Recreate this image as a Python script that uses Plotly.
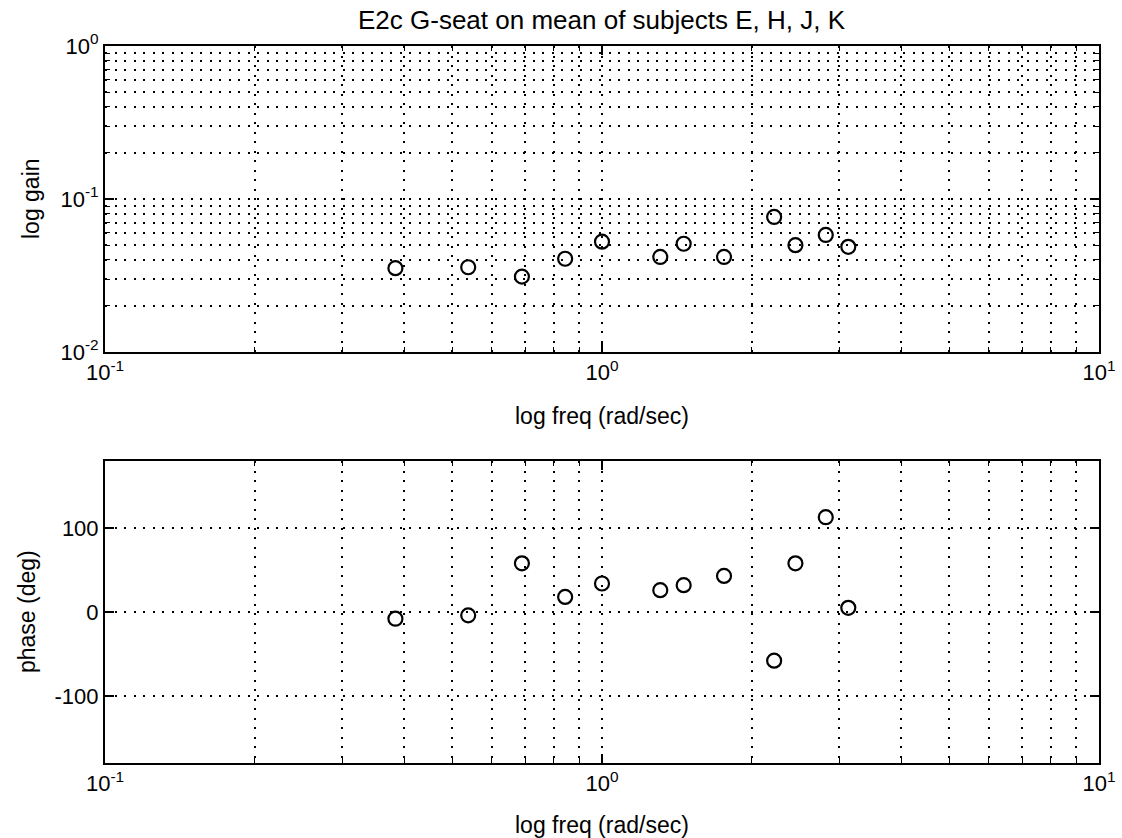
import plotly.graph_objects as go

freq = [0.384, 0.538, 0.690, 0.843, 1.00, 1.31, 1.46, 1.76, 2.22, 2.45, 2.82, 3.13]
gain = [0.0353, 0.0358, 0.0311, 0.0407, 0.0526, 0.0418, 0.0510, 0.0418, 0.0763, 0.0499, 0.0582, 0.0487]
phase = [-8, -4, 58, 18, 34, 26, 32, 43, -58, 58, 113, 5]

x_tickvals = [0.1, 1, 10]
x_ticktext = ["10<sup>-1</sup>", "10<sup>0</sup>", "10<sup>1</sup>"]
y_tickvals = [0.01, 0.1, 1]
y_ticktext = ["10<sup>-2</sup>", "10<sup>-1</sup>", "10<sup>0</sup>"]
ph_tickvals = [-100, 0, 100]
ph_ticktext = ["-100", "0", "100"]

title_text = "E2c G-seat on mean of subjects E, H, J, K"
xlabel = "log freq (rad/sec)"
ylabel_top = "log gain"
ylabel_bot = "phase (deg)"

FONT = "Liberation Sans"
TICKFONT = dict(family=FONT, size=22, color="black")
LABELFONT = dict(family=FONT, size=23, color="black")
TITLEFONT = dict(family=FONT, size=26, color="black")

W, H = 1122, 838
ML, MR, MT, MB = 105, 23, 46, 75
PW, PH = W - ML - MR, H - MT - MB


def px_x(x):
    return (x - ML) / PW


def px_y(y):
    return (H - MB - y) / PH


fig = go.Figure()
marker = dict(symbol="circle-open", size=14, color="black", line=dict(width=2.2, color="black"))
fig.add_trace(go.Scatter(x=freq, y=gain, mode="markers", xaxis="x", yaxis="y",
                         marker=marker, showlegend=False))
fig.add_trace(go.Scatter(x=freq, y=phase, mode="markers", xaxis="x2", yaxis="y2",
                         marker=marker, showlegend=False))

DASH = "2px,7.5px"


def axis(**kw):
    d = dict(
        showline=True, linecolor="black", linewidth=2, mirror="allticks",
        ticks="inside", ticklen=9, tickwidth=1.5, tickcolor="black",
        showgrid=True, gridcolor="black", gridwidth=1.5, griddash=DASH,
        zeroline=False, tickfont=TICKFONT, ticklabeloverflow="allow",
    )
    d.update(kw)
    return d


def log_minor():
    return dict(ticks="inside", ticklen=5, tickcolor="black", tickwidth=1, dtick="D1",
                showgrid=True, gridcolor="black", gridwidth=1.5, griddash=DASH)


ann = [
    dict(text=title_text, x=px_x(602), y=px_y(20), xref="paper", yref="paper",
         xanchor="center", yanchor="middle", showarrow=False, font=TITLEFONT),
    dict(text=xlabel, x=px_x(602), y=px_y(416), xref="paper", yref="paper",
         xanchor="center", yanchor="middle", showarrow=False, font=LABELFONT),
    dict(text=xlabel, x=px_x(602), y=px_y(825), xref="paper", yref="paper",
         xanchor="center", yanchor="middle", showarrow=False, font=LABELFONT),
    dict(text=ylabel_top, x=px_x(31), y=px_y(199), xref="paper", yref="paper",
         xanchor="center", yanchor="middle", showarrow=False, textangle=-90, font=LABELFONT),
    dict(text=ylabel_bot, x=px_x(27), y=px_y(612), xref="paper", yref="paper",
         xanchor="center", yanchor="middle", showarrow=False, textangle=-90, font=LABELFONT),
]

fig.update_layout(
    width=W, height=H,
    margin=dict(l=ML, r=MR, t=MT, b=MB, autoexpand=False),
    paper_bgcolor="white", plot_bgcolor="white",
    font=dict(family=FONT, size=22, color="black"),
    xaxis=axis(type="log", range=[-1, 1], domain=[0, 1], anchor="y",
               tickvals=x_tickvals, ticktext=x_ticktext, minor=log_minor()),
    yaxis=axis(type="log", range=[-2, 0], domain=[px_y(352), 1.0], anchor="x",
               tickvals=y_tickvals, ticktext=y_ticktext, minor=log_minor()),
    xaxis2=axis(type="log", range=[-1, 1], domain=[0, 1], anchor="y2",
                tickvals=x_tickvals, ticktext=x_ticktext, minor=log_minor()),
    yaxis2=axis(range=[-180, 180], domain=[0.0, px_y(461)], anchor="x2",
                tickvals=ph_tickvals, ticktext=ph_ticktext),
    annotations=ann,
)

fig.write_html("out.html",
               config={"displayModeBar": False},
               post_script="document.body.style.margin='0';document.body.style.overflow='hidden';")
